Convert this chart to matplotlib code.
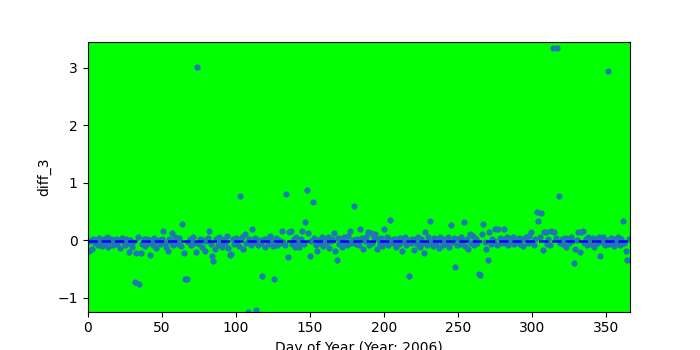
"""Daily diff_3 scatter for 2006 on a lime background, with a dashed median line."""

import numpy as np
import matplotlib
matplotlib.use("Agg")
import matplotlib.pyplot as plt

# day-of-year values, in blocks of ten days
diff_3 = [
    -0.19, -0.02, -0.16, 0.03, -0.05, 0.01, -0.08, 0.04, -0.03, -0.10,
    0.02, -0.06, 0.05, -0.12, -0.01, 0.03, -0.09, -0.04, 0.02, -0.07,
    0.01, -0.13, 0.04, -0.02, -0.08, 0.03, -0.05, -0.20, 0.01, -0.11,
    -0.03, -0.73, -0.23, 0.05, -0.77, -0.22, -0.06, 0.02, -0.10, 0.03,
    -0.04, -0.25, 0.00, -0.08, 0.04, -0.13, -0.02, 0.01, -0.07, 0.02,
    0.16, -0.05, -0.12, -0.19, 0.03, -0.03, 0.13, -0.09, 0.06, -0.01,
    -0.06, 0.04, -0.10, 0.28, -0.22, -0.67, -0.68, -0.03, 0.02, -0.08,
    0.05, -0.04, -0.20, 3.02, -0.07, 0.03, -0.11, 0.01, -0.18, -0.02,
    0.04, 0.16, -0.06, -0.28, -0.36, -0.15, 0.02, -0.09, 0.05, -0.03,
    -0.11, 0.03, -0.05, 0.08, -0.13, -0.26, -0.24, 0.02, -0.07, 0.04,
    -0.02, -0.10, 0.77, 0.05, -0.16, 0.11, -0.04, -1.25, 0.02, -0.08,
    0.19, -0.03, 0.04, -1.22, -0.09, 0.01, -0.05, -0.62, 0.03, -0.12,
    0.02, -0.06, 0.07, -0.02, -0.10, -0.67, 0.04, -0.08, 0.01, -0.04,
    0.16, -0.03, -0.09, 0.80, -0.30, 0.15, 0.16, -0.06, 0.02, -0.11,
    0.05, -0.04, -0.12, 0.03, 0.16, -0.07, 0.31, 0.87, 0.12, -0.27,
    -0.02, 0.67, 0.04, -0.08, -0.19, 0.01, -0.05, 0.06, -0.10, 0.02,
    -0.04, 0.05, -0.13, -0.01, 0.03, 0.12, -0.19, -0.35, 0.04, -0.07,
    0.02, -0.11, 0.05, -0.03, -0.08, 0.07, 0.16, -0.05, 0.01, 0.59,
    -0.06, 0.03, -0.09, 0.19, 0.04, -0.15, -0.02, 0.06, 0.14, -0.08,
    0.12, -0.04, 0.05, 0.11, -0.15, 0.02, -0.07, 0.04, -0.10, 0.19,
    -0.03, 0.06, -0.08, 0.36, 0.01, -0.05, 0.03, -0.12, 0.02, -0.06,
    0.04, -0.19, -0.02, 0.05, -0.09, 0.01, -0.63, -0.04, 0.03, -0.17,
    0.02, -0.07, 0.05, -0.11, 0.03, -0.05, -0.23, 0.14, -0.08, 0.06,
    0.34, -0.03, -0.10, 0.04, -0.06, 0.02, -0.13, 0.05, -0.02, -0.08,
    0.03, -0.05, 0.06, -0.12, 0.26, -0.03, 0.04, -0.47, -0.09, 0.02,
    -0.06, 0.05, -0.02, 0.31, -0.10, 0.03, -0.16, 0.11, -0.04, 0.07,
    -0.08, 0.02, -0.05, -0.58, -0.60, 0.11, 0.29, -0.03, -0.16, -0.34,
    0.14, -0.06, 0.03, -0.02, 0.20, -0.08, 0.20, 0.04, -0.05, 0.02,
    0.20, -0.04, 0.06, -0.09, 0.02, -0.03, 0.05, -0.07, 0.01, -0.02,
    0.04, -0.06, 0.03, -0.10, 0.02, 0.05, -0.04, 0.07, 0.14, -0.03,
    -0.08, 0.02, 0.50, 0.33, 0.05, 0.47, -0.17, 0.15, 0.14, -0.06,
    0.03, -0.09, 0.16, 3.35, 0.15, 0.04, 3.35, 0.77, -0.05, 0.02,
    -0.07, 0.04, -0.12, 0.03, -0.05, 0.06, -0.02, -0.40, -0.16, 0.01,
    0.14, -0.21, 0.15, 0.16, -0.04, 0.03, -0.09, 0.05, -0.02, -0.07,
    0.04, -0.11, 0.02, -0.05, 0.06, -0.27, -0.03, 0.05, -0.08, 0.01,
    2.95, -0.06, 0.04, -0.02, -0.10, 0.03, -0.05, 0.06, -0.08, 0.02,
    0.33, -0.04, -0.19, -0.35, 0.02,
]
day = np.arange(1, len(diff_3) + 1)
year = 2006

fig, ax = plt.subplots(figsize=(7, 3.5), dpi=100)
ax.set_facecolor("#00ff00")
ax.scatter(day, diff_3, s=12, color="#1f77b4", zorder=2)
ax.axhline(np.median(diff_3), color="b", ls="--", lw=1.8, zorder=3)

ax.set_xlim(0, 366)
ax.set_ylim(-1.24, 3.45)
ax.set_xlabel(f"Day of Year (Year: {year})")
ax.set_ylabel("diff_3")

fig.savefig("out.png", dpi=100)
